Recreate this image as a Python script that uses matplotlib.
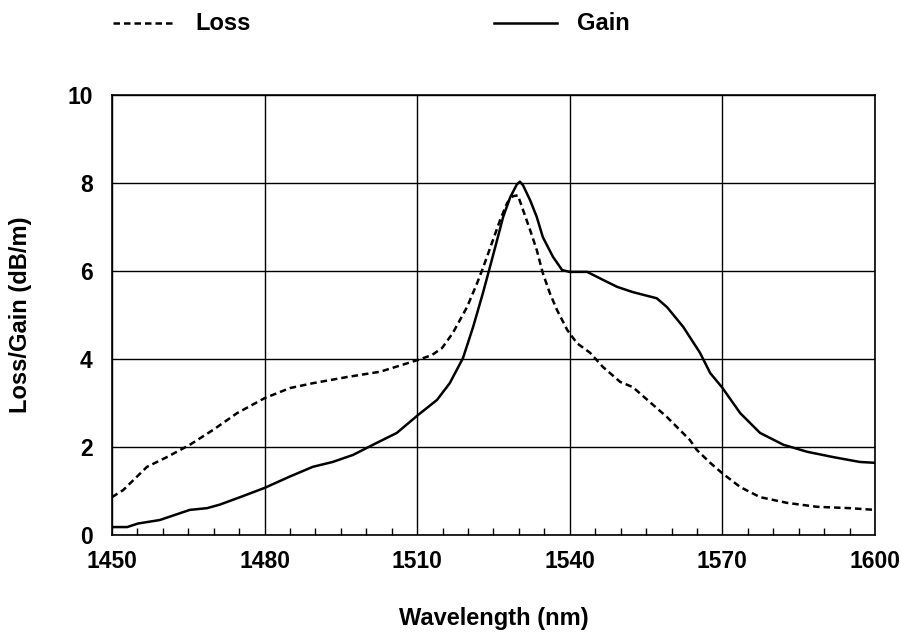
import matplotlib.pyplot as plt
from matplotlib.lines import Line2D
from matplotlib.ticker import MultipleLocator

plt.rcParams['font.family'] = ['Liberation Sans', 'DejaVu Sans']
plt.rcParams['font.weight'] = 'bold'

# Absorption (loss) spectrum, wavelength in nm and dB/m
loss_wl = [1450, 1452.2, 1456.9, 1460.8, 1465.3, 1469.9, 1474.6, 1480, 1485,
           1489.5, 1496.2, 1502.7, 1510.2, 1512.9, 1514.9, 1517, 1519.8,
           1521.8, 1523, 1524.7, 1526.3, 1527.7, 1528.8, 1529.8, 1530.8,
           1532.2, 1533.5, 1534.7, 1536.1, 1537.5, 1539.5, 1541.4, 1544,
           1546.5, 1549.9, 1552.4, 1559.1, 1563.6, 1565, 1567.6, 1569.9,
           1573.5, 1577.4, 1582.7, 1588.6, 1595, 1600]
loss_db = [0.86, 1.02, 1.55, 1.77, 2.05, 2.39, 2.77, 3.11, 3.34,
           3.45, 3.59, 3.71, 3.98, 4.09, 4.25, 4.59, 5.18,
           5.73, 6.09, 6.64, 7.16, 7.55, 7.70, 7.72, 7.39,
           6.93, 6.48, 5.95, 5.49, 5.11, 4.66, 4.36, 4.14,
           3.82, 3.48, 3.36, 2.68, 2.16, 1.93, 1.64, 1.41,
           1.09, 0.86, 0.73, 0.64, 0.61, 0.57]

# Emission (gain) spectrum
gain_wl = [1450, 1453, 1455.1, 1459.4, 1465.3, 1468.7, 1471.2, 1475.2, 1480,
           1485, 1489.5, 1493.4, 1497.4, 1501.3, 1506, 1510.2, 1513.9,
           1516.4, 1519, 1521, 1522.9, 1524.3, 1525.7, 1526.9, 1528.3,
           1529.6, 1530.2, 1530.8, 1532.2, 1533.5, 1534.7, 1536.7, 1538.5,
           1540, 1543.4, 1546.5, 1549.3, 1552.4, 1557.1, 1559.1, 1562.3,
           1565.6, 1567.6, 1569.9, 1573.5, 1577.4, 1582, 1586.7, 1591.8,
           1597, 1600]
gain_db = [0.18, 0.18, 0.26, 0.34, 0.57, 0.61, 0.69, 0.86, 1.07,
           1.33, 1.55, 1.66, 1.82, 2.05, 2.32, 2.73, 3.07,
           3.45, 4.02, 4.73, 5.49, 6.09, 6.70, 7.23, 7.68,
           7.97, 8.03, 7.95, 7.61, 7.23, 6.77, 6.32, 6.02,
           5.98, 5.98, 5.80, 5.64, 5.52, 5.38, 5.18, 4.73,
           4.14, 3.68, 3.36, 2.77, 2.32, 2.05, 1.89, 1.77,
           1.66, 1.64]

x_ticks = [1450, 1480, 1510, 1540, 1570, 1600]
y_ticks = [0, 2, 4, 6, 8, 10]

fig = plt.figure(figsize=(9.03, 6.42), dpi=100)
ax = fig.add_axes([0.124, 0.1667, 0.845, 0.6853])

ax.plot(loss_wl, loss_db, color='black', lw=1.8, dashes=(2.6, 1.6))
ax.plot(gain_wl, gain_db, color='black', lw=1.8)

ax.set_xlim(1450, 1600)
ax.set_ylim(0, 10)
ax.set_xticks(x_ticks)
ax.set_yticks(y_ticks)
ax.xaxis.set_minor_locator(MultipleLocator(5))
ax.grid(True, which='major', color='black', lw=1.0)
ax.tick_params(which='major', length=0, labelsize=16.5, pad=11)
ax.tick_params(axis='x', which='minor', direction='in', length=5, width=1.0)
ax.tick_params(axis='y', which='major', pad=14)
for s in ax.spines.values():
    s.set_linewidth(1.2)

ax.set_xlabel('Wavelength (nm)', fontsize=17, fontweight='bold', labelpad=24)
ax.set_ylabel('Loss/Gain (dB/m)', fontsize=17, fontweight='bold', labelpad=25)

# legend drawn above the frame
fig.add_artist(Line2D([0.125, 0.19], [0.964, 0.964], color='black', lw=1.8,
                      dashes=(2.6, 1.6), transform=fig.transFigure))
fig.text(0.216, 0.964, 'Loss', fontsize=17, fontweight='bold', va='center')
fig.add_artist(Line2D([0.547, 0.617], [0.964, 0.964], color='black', lw=1.8,
                      transform=fig.transFigure))
fig.text(0.639, 0.964, 'Gain', fontsize=17, fontweight='bold', va='center')

fig.savefig('out.png', dpi=100)
